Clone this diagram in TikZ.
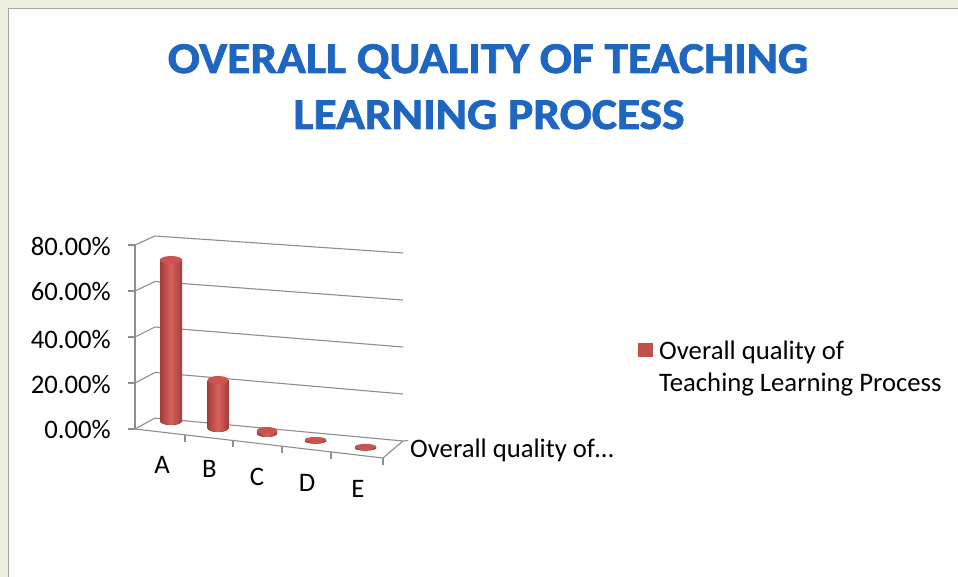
\documentclass[tikz,border=0pt]{standalone}
\usepackage{fontspec}
\setmainfont{Carlito}
\newfontfamily\titlefont[FakeBold=1.6]{Carlito Bold}
\definecolor{bgc}{HTML}{EBF1DE}
\definecolor{panelc}{HTML}{A6A6A6}
\definecolor{gridc}{HTML}{8E8E8E}
\definecolor{titlec}{HTML}{1F66C1}
\definecolor{bardark}{HTML}{A43C39}
\definecolor{barlight}{HTML}{D8625D}
\definecolor{bartop}{HTML}{CC5450}
\definecolor{legc}{HTML}{C0504D}
\newcommand\mycyl[5]{%
  \fill[left color=bardark,right color=bardark,middle color=barlight] (#1,#4) ellipse [x radius=#2, y radius=#5];
  \fill[left color=bardark,right color=bardark,middle color=barlight] (#1-#2,#3) rectangle (#1+#2,#4);
  \fill[bartop] (#1,#3) ellipse [x radius=#2, y radius=#5];
}
\begin{document}
\begin{tikzpicture}[x=1pt,y=-1pt,
  gridline/.style={draw=gridc,line width=1.1pt},
  lbl/.style={inner sep=0pt,font=\fontsize{26.7}{32}\selectfont},
  ttl/.style={inner sep=0pt,text=titlec,font=\fontsize{44}{52}\selectfont\titlefont,xscale=1.08}]
\useasboundingbox (0,0) rectangle (958,577);
\fill[bgc] (0,0) rectangle (958,577);
\draw[panelc,fill=white,line width=1.2pt] (8.5,8.5) rectangle (975,595);
% title
\node[ttl,anchor=base] (t1) at (488,73) {OVERALL QUALITY OF TEACHING};
\node[ttl,anchor=base] (t2) at (489,129) {LEARNING PROCESS};
% frame coordinates
\foreach \k in {0,...,4}{
  \coordinate (f\k) at (135,{429-46*\k});
  \coordinate (b\k) at (155,{418-45.5*\k});
  \coordinate (r\k) at (403,{441-47*\k});
}
% back wall gridlines
\foreach \k in {1,...,4}{ \draw[gridline] (b\k) -- (r\k); }
% left wall diagonals and ticks
\foreach \k in {0,...,4}{
  \draw[gridline] (f\k) -- (b\k);
  \draw[gridline] (f\k) -- ++(-7,0);
}
\draw[gridline] (f0) -- (f4);
% floor
\coordinate (fr) at (383,458);
\draw[gridline] (b0) -- (r0);
\draw[gridline] (f0) -- (fr) -- (r0) -- ++(5,-0.5);
\foreach \x in {185,233,282,331,383}{
  \draw[gridline] (\x,{429+(\x-135)*0.117}) -- ++(0,7);
}
% bars
\mycyl{171}{11}{260}{421}{4}
\mycyl{218}{10.5}{380}{428}{4}
\mycyl{267}{10}{430.5}{433.5}{3.5}
\mycyl{315.5}{10.5}{439.5}{441}{2.6}
\mycyl{365.5}{10.5}{446.5}{448}{2.6}
% y labels
\node[lbl,anchor=base east] (y80) at (111,256) {80.00\%};
\node[lbl,anchor=base east] (y60) at (111,301) {60.00\%};
\node[lbl,anchor=base east] (y40) at (111,348) {40.00\%};
\node[lbl,anchor=base east] (y20) at (111,393) {20.00\%};
\node[lbl,anchor=base east] (y0) at (111,438) {0.00\%};
% category labels
\node[lbl,anchor=base] (ca) at (162,473) {A};
\node[lbl,anchor=base] (cb) at (209.5,477) {B};
\node[lbl,anchor=base] (cc) at (257,485) {C};
\node[lbl,anchor=base] (cd) at (307,491) {D};
\node[lbl,anchor=base] (ce) at (358,497) {E};
% axis title
\node[lbl,anchor=base west] (ax) at (410,457) {Overall quality of\dots};
% legend
\fill[legc] (638,343) rectangle (653,357);
\node[lbl,anchor=base west] (l1) at (659,359) {Overall quality of};
\node[lbl,anchor=base west] (l2) at (659,391) {Teaching Learning Process};
\end{tikzpicture}
\end{document}
